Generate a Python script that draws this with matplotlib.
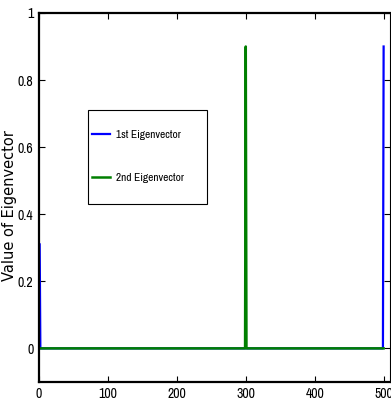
import matplotlib
matplotlib.use("Agg")
import matplotlib.pyplot as plt
from matplotlib import font_manager
from matplotlib.patches import Rectangle

names = {f.name for f in font_manager.fontManager.ttflist}
narrow_pref = ["Liberation Sans Narrow", "Archivo Narrow", "Roboto Condensed",
               "Fira Sans Extra Condensed", "Liberation Sans"]
narrow = [n for n in narrow_pref if n in names][:1] + ["DejaVu Sans"]

# Sparse description of the two eigenvectors (index, value); all other entries ~0
blue_idx = [1, 2, 299, 300, 301, 499, 500]
blue_val = [0.31, 0.0, 0.0, 0.005, 0.0, 0.0, 0.9]
green_idx = [1, 299, 300, 301, 500]
green_val = [0.0, 0.0, 0.9, 0.0, 0.0]

x_ticks = [0, 100, 200, 300, 400, 500]
y_ticks = [0, 0.2, 0.4, 0.6, 0.8, 1]
y_tick_labels = ["0", "0.2", "0.4", "0.6", "0.8", "1"]

fig = plt.figure(figsize=(3.91, 4.05), dpi=100)
ax = fig.add_axes([0.0997, 0.057, 0.8973, 0.911])

ax.plot(blue_idx, blue_val, color="#0000ff", lw=1.6, label="1st Eigenvector")
ax.plot(green_idx, green_val, color="#007f00", lw=1.8, label="2nd Eigenvector")

ax.set_xlim(0, 509)
ax.set_ylim(-0.1, 1)
ax.set_xticks(x_ticks)
ax.set_xticklabels([str(t) for t in x_ticks], family=narrow, fontsize=10)
ax.set_yticks(y_ticks)
ax.set_yticklabels(y_tick_labels, family=narrow, fontsize=10)
ax.tick_params(direction="in", top=True, right=True, length=4, width=0.8, pad=4)
for s in ["left", "bottom", "top"]:
    ax.spines[s].set_linewidth(1.6)
ax.spines["right"].set_linewidth(0.8)

ax.set_ylabel("Value of Eigenvector", family="DejaVu Sans", fontsize=10.5)
ax.yaxis.set_label_coords(-0.063, 0.477)

# legend box
ax.add_patch(Rectangle((0.1396, 0.4824), 0.339, 0.2546, transform=ax.transAxes,
                       facecolor="white", edgecolor="black", lw=0.8, zorder=4))
leg = ax.legend(loc="upper left", bbox_to_anchor=(0.151, 0.682), prop={"family": narrow, "size": 8.2},
                frameon=False, handlelength=1.6, handletextpad=0.5,
                labelspacing=2.85, borderpad=0, borderaxespad=0)
leg.set_zorder(5)

fig.savefig("out.png", dpi=100)
